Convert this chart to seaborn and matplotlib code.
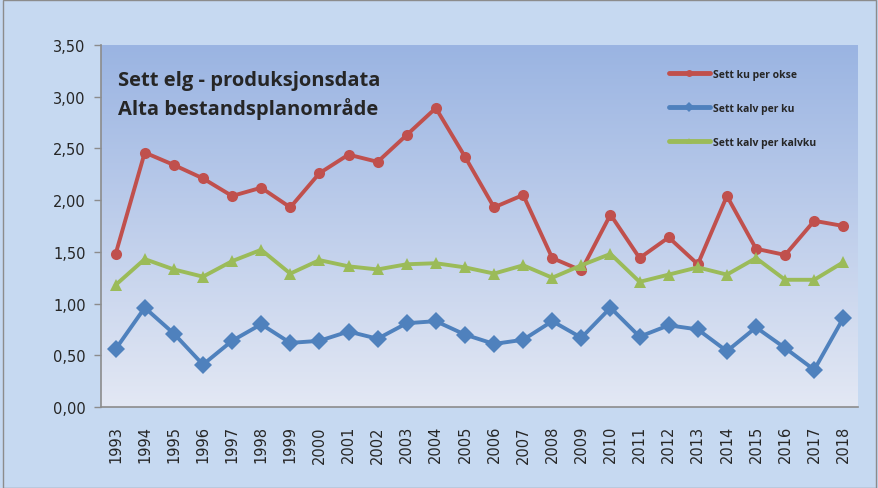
"""
Sett elg - produksjonsdata, Alta bestandsplanområde.
"""

import matplotlib.pyplot as plt
import numpy as np
import pandas as pd
import seaborn as sns
from matplotlib.lines import Line2D
from matplotlib.patches import Rectangle

years = [str(y) for y in range(1993, 2019)]

ku_per_okse = [1.48, 2.46, 2.34, 2.21, 2.04, 2.12, 1.93, 2.26, 2.44, 2.37,
               2.63, 2.89, 2.42, 1.93, 2.05, 1.44, 1.32, 1.86, 1.44, 1.64,
               1.38, 2.04, 1.53, 1.47, 1.80, 1.75]
kalv_per_ku = [0.56, 0.96, 0.71, 0.41, 0.64, 0.80, 0.62, 0.64, 0.73, 0.66,
               0.81, 0.83, 0.70, 0.61, 0.65, 0.83, 0.67, 0.96, 0.68, 0.79,
               0.75, 0.54, 0.77, 0.57, 0.36, 0.86]
kalv_per_kalvku = [1.18, 1.43, 1.33, 1.26, 1.41, 1.52, 1.29, 1.42, 1.36, 1.33,
                   1.38, 1.39, 1.35, 1.29, 1.37, 1.25, 1.37, 1.48, 1.21, 1.28,
                   1.35, 1.28, 1.44, 1.23, 1.23, 1.40]

series_names = ["Sett ku per okse", "Sett kalv per ku", "Sett kalv per kalvku"]
series_values = [ku_per_okse, kalv_per_ku, kalv_per_kalvku]
series_colors = ["#c0504d", "#4f81bd", "#9bbb59"]
series_markers = ["o", "D", "^"]
marker_sizes = [8, 9, 8]

sns.set_style("white")
plt.rcParams["font.family"] = ["DejaVu Sans"]

fig = plt.figure(figsize=(8.79, 4.89), dpi=100)
fig.patch.set_facecolor("#c6d9f1")
fig.patches.append(Rectangle((0.003, 0.0), 0.994, 0.997, transform=fig.transFigure,
                             fill=False, edgecolor="#8c8c8c", linewidth=1.0))

ax = fig.add_axes([0.115, 0.1656, 0.861, 0.7404])

# gradient background of the plot area
gradient = np.linspace(0, 1, 256).reshape(-1, 1)
cmap = sns.blend_palette(["#9ab4e2", "#e3e8f4"], as_cmap=True)
ax.imshow(gradient, aspect="auto", cmap=cmap, extent=[0, 1, 0, 1],
          transform=ax.transAxes, zorder=0)

for name, values, color, marker, ms in zip(series_names, series_values,
                                           series_colors, series_markers,
                                           marker_sizes):
    frame = pd.DataFrame({"År": years, "Verdi": values})
    sns.lineplot(data=frame, x="År", y="Verdi", ax=ax, color=color,
                 linewidth=2.8, marker=marker, markersize=ms,
                 markeredgecolor=color, markeredgewidth=0, zorder=3)

ax.set_xlim(-0.5, len(years) - 0.5)
ax.set_ylim(0, 3.5)
ax.set_xlabel("")
ax.set_ylabel("")

yticks = np.arange(0, 3.51, 0.5)
ax.set_yticks(yticks)
ax.set_yticklabels([f"{t:.2f}".replace(".", ",") for t in yticks], fontsize=10.5)

ax.set_xticks(range(len(years)))
ax.set_xticklabels(years, rotation=90, fontsize=10.5)
ax.set_xticks(np.arange(-0.5, len(years)), minor=True)
ax.tick_params(axis="x", which="major", length=0, pad=13)
ax.tick_params(axis="x", which="minor", length=5, color="#8c8c8c", width=1)
ax.tick_params(axis="y", which="major", length=5, color="#8c8c8c", width=1,
               left=True, pad=6)

for side in ["top", "right"]:
    ax.spines[side].set_visible(False)
for side in ["left", "bottom"]:
    ax.spines[side].set_color("#8c8c8c")
    ax.spines[side].set_linewidth(1.2)

ax.text(0.022, 0.93, "Sett elg - produksjonsdata\nAlta bestandsplanområde",
        transform=ax.transAxes, ha="left", va="top", fontsize=14.5,
        fontweight="bold", family="Open Sans", linespacing=1.4)

handles = [Line2D([0], [0], color=c, marker=m, markersize=5, linewidth=3.5,
                  markeredgewidth=0)
           for c, m in zip(series_colors, series_markers)]
legend = ax.legend(handles, series_names, loc="upper left",
                   bbox_to_anchor=(0.738, 0.96), frameon=False,
                   handlelength=3.9, handletextpad=0.3, labelspacing=2.2,
                   prop={"family": "Open Sans", "weight": "bold", "size": 7.5})

fig.savefig("out.png", dpi=100, facecolor=fig.get_facecolor())
